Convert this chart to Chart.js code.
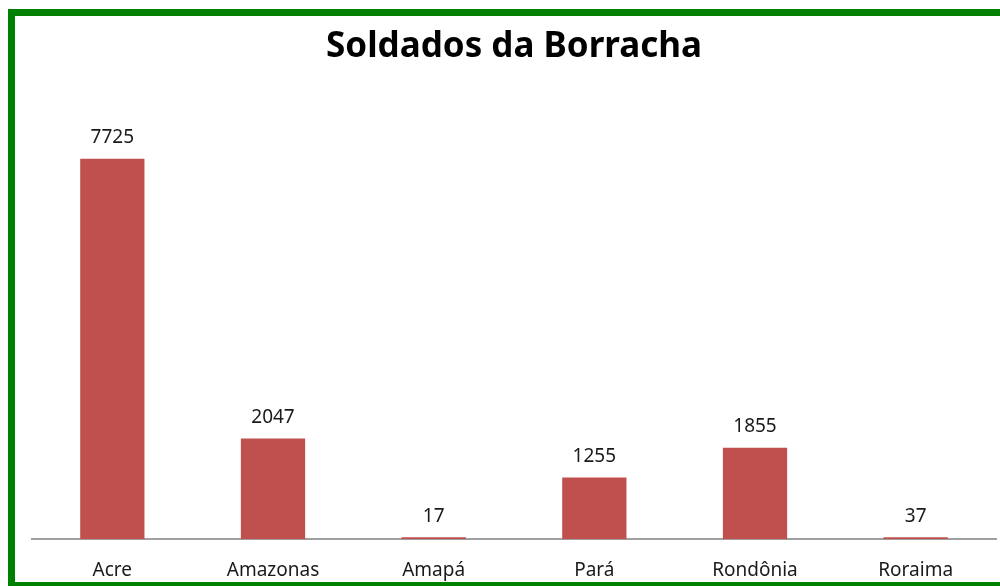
<!DOCTYPE html>
<html>
<head>
<meta charset="utf-8">
<script src="https://cdn.jsdelivr.net/npm/chart.js@4"></script>
<style>
  html, body { margin: 0; padding: 0; background: #fff; overflow: hidden; }
  .frame {
    position: absolute; left: 8px; top: 9px;
    width: 1100px; height: 566px;
    border-left: 7px solid #008000; border-top: 7px solid #008000; border-bottom: 4px solid #008000;
  }
  .wrap { position: absolute; left: 0; top: 0; width: 1000px; height: 586px; }
</style>
</head>
<body>
<div class="frame"></div>
<div class="wrap"><canvas id="myChart" width="1000" height="586"></canvas></div>
<script>
const states = ['Acre', 'Amazonas', 'Amapá', 'Pará', 'Rondônia', 'Roraima'];
const soldiers = [7725, 2047, 17, 1255, 1855, 37];

// draws the value above each bar
const valueLabels = {
  id: 'valueLabels',
  afterDatasetsDraw(chart) {
    const ctx = chart.ctx;
    const meta = chart.getDatasetMeta(0);
    ctx.save();
    ctx.font = '19px "Noto Sans"';
    ctx.fillStyle = '#1a1a1a';
    ctx.textAlign = 'center';
    ctx.textBaseline = 'middle';
    meta.data.forEach((bar, i) => {
      ctx.fillText(chart.data.datasets[0].data[i], bar.x, bar.y - 21);
    });
    ctx.restore();
  }
};

const ctx = document.getElementById('myChart');

new Chart(ctx, {
  type: 'bar',
  data: {
    labels: states,
    datasets: [{
      label: 'Soldados',
      data: soldiers,
      backgroundColor: '#C0504D',
      categoryPercentage: 1,
      barPercentage: 0.4,
      minBarLength: 2
    }]
  },
  options: {
    responsive: false,
    animation: false,
    layout: { padding: { left: 32, right: 4, top: 0, bottom: -8 } },
    plugins: {
      legend: { display: false },
      tooltip: { enabled: false },
      title: {
        display: true,
        text: 'Soldados da Borracha',
        color: '#000',
        font: { family: '"Noto Sans"', size: 35, weight: 'bold' },
        padding: { top: 26, bottom: 28 }
      }
    },
    scales: {
      x: {
        grid: { display: false },
        border: { color: '#a0a0a0', width: 2 },
        ticks: { color: '#1a1a1a', padding: 12, maxRotation: 0, font: { family: '"Noto Sans"', size: 19 } }
      },
      y: {
        display: false,
        min: 0,
        max: 9000
      }
    }
  },
  plugins: [valueLabels]
});
</script>
</body>
</html>
